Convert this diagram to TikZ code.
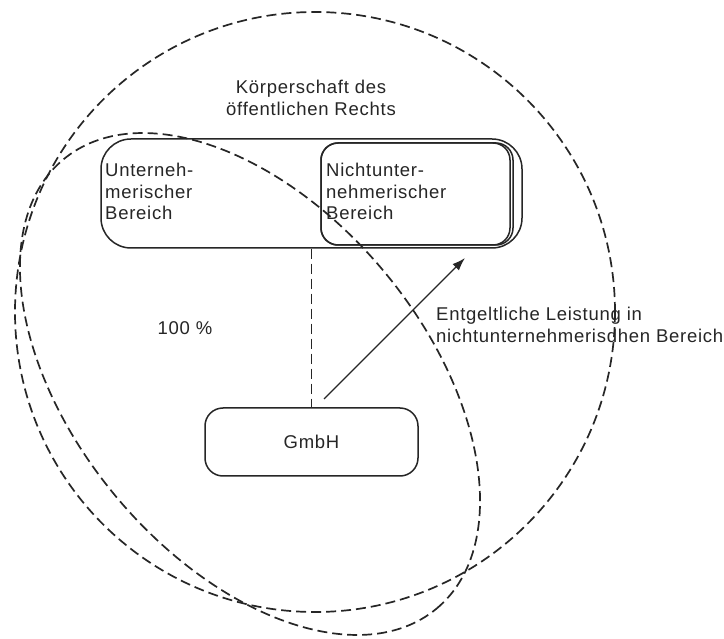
\documentclass[tikz,border=0pt]{standalone}
\usepackage{fontspec}
\setmainfont[LetterSpace=4]{Liberation Sans}
\usetikzlibrary{arrows.meta}
\definecolor{ink}{HTML}{262626}
\tikzset{
  dashline/.style={draw=ink, line width=1.7pt, dash pattern=on 10pt off 5pt},
  boxline/.style={draw=ink, line width=1.5pt},
  lbl/.style={text=ink, font=\fontsize{18.5}{21.5}\selectfont, inner sep=0pt, align=left},
}
\begin{document}
\begin{tikzpicture}[x=1pt, y=-1pt]
\useasboundingbox[fill=white] (0,0) rectangle (724,639);

% big dashed circle and tilted dashed ellipse
\draw[dashline] (315,312) circle [radius=300pt];
\draw[dashline] (250,384) ellipse [x radius=292pt, y radius=175pt, rotate=-50.3];

% title
\node[lbl, align=center] (title) at (311,98) {Körperschaft des\\öffentlichen Rechts};

% outer box
\node[boxline, rounded corners=30pt, minimum width=421pt, minimum height=109pt, inner sep=0pt] (koerper) at (311.5,193.5) {};
% inner box (double right edge)
\node[boxline, rounded corners=17pt, minimum width=192pt, minimum height=102pt, inner sep=0pt] (nbdouble) at (417,194) {};
\node[boxline, rounded corners=17pt, minimum width=189pt, minimum height=102pt, inner sep=0pt] (nb) at (415.5,194) {};

\node[lbl, anchor=north west] (unt) at (105,163) {Unterneh-\\merischer\\Bereich};
\node[lbl, anchor=north west] (nicht) at (326,163) {Nichtunter-\\nehmerischer\\Bereich};

% GmbH
\node[boxline, rounded corners=18pt, minimum width=213pt, minimum height=68pt, inner sep=0pt, text=ink, font=\fontsize{18.5}{21.5}\selectfont] (gmbh) at (311.5,442) {GmbH};

\node[lbl] (pct) at (185,328) {100 \%};
\node[lbl, anchor=west] (leist) at (436,325) {Entgeltliche Leistung in\\nichtunternehmerisdhen Bereich};

% connectors
\draw[dashline] (gmbh.north |- koerper.south) -- (gmbh.north);
\coordinate (arrS) at (324,399);
\coordinate (arrE) at (465,258);
\draw[draw=ink, line width=1.3pt, -{Latex[length=13pt, width=9pt]}] (arrS) -- (arrE);
\end{tikzpicture}
\end{document}
